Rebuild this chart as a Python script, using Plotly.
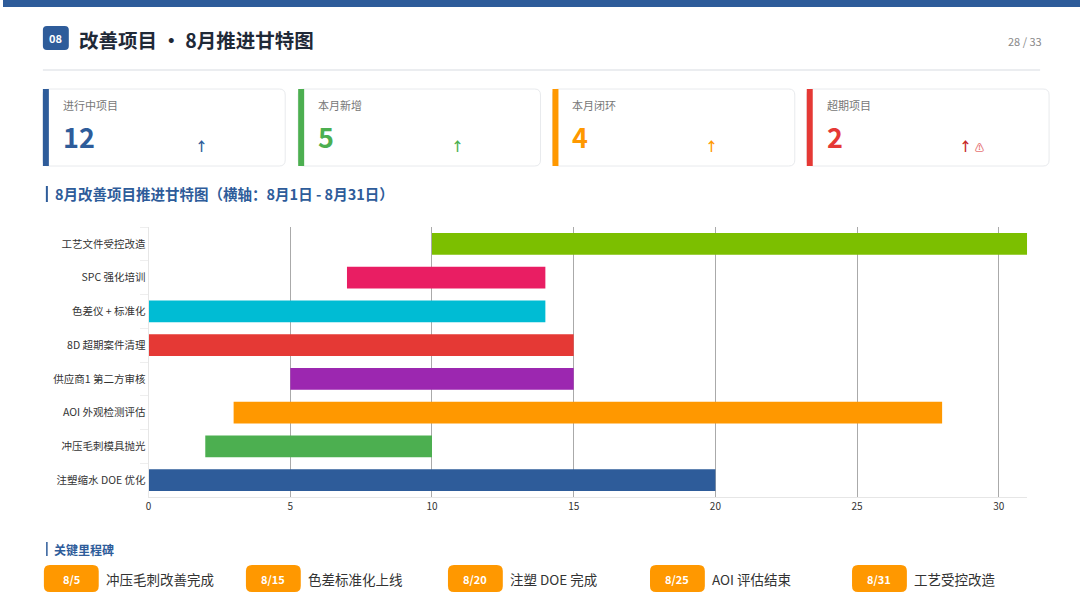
import plotly.graph_objects as go

W, H = 1080, 608

# gantt data (day of August)
tasks = ["工艺文件受控改造", "SPC 强化培训", "色差仪 + 标准化", "8D 超期案件清理",
         "供应商1 第二方审核", "AOI 外观检测评估", "冲压毛刺模具抛光", "注塑缩水 DOE 优化"]
start_day = [10, 7, 0, 0, 5, 3, 2, 0]
end_day = [31, 14, 14, 15, 15, 28, 10, 20]
bar_colors = ["#7CBF00", "#E91E63", "#00BCD4", "#E53935",
              "#9C27B0", "#FF9800", "#4CAF50", "#2E5C9A"]

# KPI cards
kpi_labels = ["进行中项目", "本月新增", "本月闭环", "超期项目"]
kpi_values = [12, 5, 4, 2]
kpi_colors = ["#2E5C9A", "#4CAF50", "#FF9800", "#E53935"]

# milestones
ms_dates = ["8/5", "8/15", "8/20", "8/25", "8/31"]
ms_labels = ["冲压毛刺改善完成", "色差标准化上线", "注塑 DOE 完成", "AOI 评估结束", "工艺受控改造"]

FONT = "Noto Sans CJK SC"
BLUE = "#2E5C9A"


def px(x):
    return x / W


def py(y):
    return 1 - y / H


def rrect(x0, y0, x1, y1, r):
    pts = [f"M {px(x0 + r)},{py(y0)}", f"L {px(x1 - r)},{py(y0)}",
           f"Q {px(x1)},{py(y0)} {px(x1)},{py(y0 + r)}", f"L {px(x1)},{py(y1 - r)}",
           f"Q {px(x1)},{py(y1)} {px(x1 - r)},{py(y1)}", f"L {px(x0 + r)},{py(y1)}",
           f"Q {px(x0)},{py(y1)} {px(x0)},{py(y1 - r)}", f"L {px(x0)},{py(y0 + r)}",
           f"Q {px(x0)},{py(y0)} {px(x0 + r)},{py(y0)}", "Z"]
    return " ".join(pts)


fig = go.Figure()
fig.add_trace(go.Bar(
    y=tasks, x=[e - s for s, e in zip(start_day, end_day)], base=start_day,
    orientation="h", marker=dict(color=bar_colors, line=dict(width=0)),
    width=0.65, hoverinfo="skip", showlegend=False))

shapes = []
ann = []

# top band
shapes.append(dict(type="rect", xref="paper", yref="paper", x0=0, x1=1, y0=py(7), y1=1,
                   fillcolor=BLUE, line_width=0, layer="below"))
# badge
shapes.append(dict(type="path", xref="paper", yref="paper", path=rrect(40, 26, 66, 50, 4),
                   fillcolor=BLUE, line_width=0))
ann.append(dict(x=px(53), y=py(38), xanchor="center", text="<b>08</b>",
                font=dict(size=11, color="white")))
ann.append(dict(x=px(74), y=py(40), xanchor="left", text="<b>改善项目 • 8月推进甘特图</b>",
                font=dict(size=19.5, color="#1F2937")))
ann.append(dict(x=px(1044), y=py(41), xanchor="right", text="28 / 33",
                font=dict(size=11, color="#888888")))
shapes.append(dict(type="line", xref="paper", yref="paper", x0=px(40), x1=px(1040),
                   y0=py(70), y1=py(70), line=dict(color="#E5E7EB", width=1.5)))

# KPI cards
card_x = [40, 296, 551, 806]
for i in range(4):
    x0 = card_x[i]
    shapes.append(dict(type="path", xref="paper", yref="paper",
                       path=rrect(x0, 89, x0 + 243, 166, 6),
                       fillcolor="white", line=dict(color="#E8EAED", width=1)))
    shapes.append(dict(type="rect", xref="paper", yref="paper", x0=px(x0), x1=px(x0 + 6),
                       y0=py(166), y1=py(89), fillcolor=kpi_colors[i], line_width=0))
    ann.append(dict(x=px(x0 + 18), y=py(105), xanchor="left", text=kpi_labels[i],
                    font=dict(size=11, color="#777777")))
    ann.append(dict(x=px(x0 + 18), y=py(137), xanchor="left", text=f"<b>{kpi_values[i]}</b>",
                    font=dict(size=27, color=kpi_colors[i])))
    arrow = "↑" if i < 3 else "↑ <span style='color:#E57373;font-size:9px'>⚠</span>"
    ann.append(dict(x=px(x0 + 151), y=py(146), xanchor="left", text=f"<b>{arrow}</b>",
                    font=dict(size=13, color=kpi_colors[i] if i < 3 else "#C62828")))

# section title
shapes.append(dict(type="line", xref="paper", yref="paper", x0=px(44), x1=px(44),
                   y0=py(186), y1=py(202), line=dict(color=BLUE, width=2)))
ann.append(dict(x=px(50), y=py(194), xanchor="left",
                text="<b>8月改善项目推进甘特图（横轴：8月1日 - 8月31日）</b>",
                font=dict(size=14.5, color=BLUE)))

# milestones
shapes.append(dict(type="line", xref="paper", yref="paper", x0=px(44), x1=px(44),
                   y0=py(542), y1=py(556), line=dict(color=BLUE, width=1.5)))
ann.append(dict(x=px(49), y=py(549), xanchor="left", text="<b>关键里程碑</b>",
                font=dict(size=12, color=BLUE)))
for i, (d, lab) in enumerate(zip(ms_dates, ms_labels)):
    x0 = 41 + i * 202.6
    shapes.append(dict(type="path", xref="paper", yref="paper",
                       path=rrect(x0, 565, x0 + 55, 592, 6), fillcolor="#FF9800", line_width=0))
    ann.append(dict(x=px(x0 + 27.5), y=py(578.5), xanchor="center", text=f"<b>{d}</b>",
                    font=dict(size=11, color="white")))
    ann.append(dict(x=px(x0 + 60), y=py(578.5), xanchor="left", text=lab,
                    font=dict(size=13.5, color="#333333")))

for a in ann:
    a.update(xref="paper", yref="paper", showarrow=False, yanchor="middle")

fig.update_layout(
    width=W, height=H, margin=dict(l=0, r=0, t=0, b=0),
    paper_bgcolor="white", plot_bgcolor="white",
    font=dict(family=FONT, size=10, color="#333333"),
    shapes=shapes, annotations=ann, bargap=0.35,
    xaxis=dict(domain=[px(146), px(1027)], range=[0, 31], dtick=5, tick0=0,
               showgrid=True, gridcolor="#AAAAAA", gridwidth=1, zeroline=False,
               showline=True, linecolor="#E6E6E6", ticks="", tickfont=dict(size=10, color="#333333")),
    yaxis=dict(domain=[py(497), py(227)], autorange="reversed", showgrid=False,
               showline=True, linecolor="#E6E6E6", ticks="outside", tickson="boundaries",
               ticklen=8, tickcolor="#EEEEEE", tickfont=dict(size=10.5, color="#333333")),
)

# page body has a default 8px margin; drop it so the figure sits at the window corner
fig.write_html("out.html", config={"displayModeBar": False},
               post_script="document.body.style.margin='0';")
